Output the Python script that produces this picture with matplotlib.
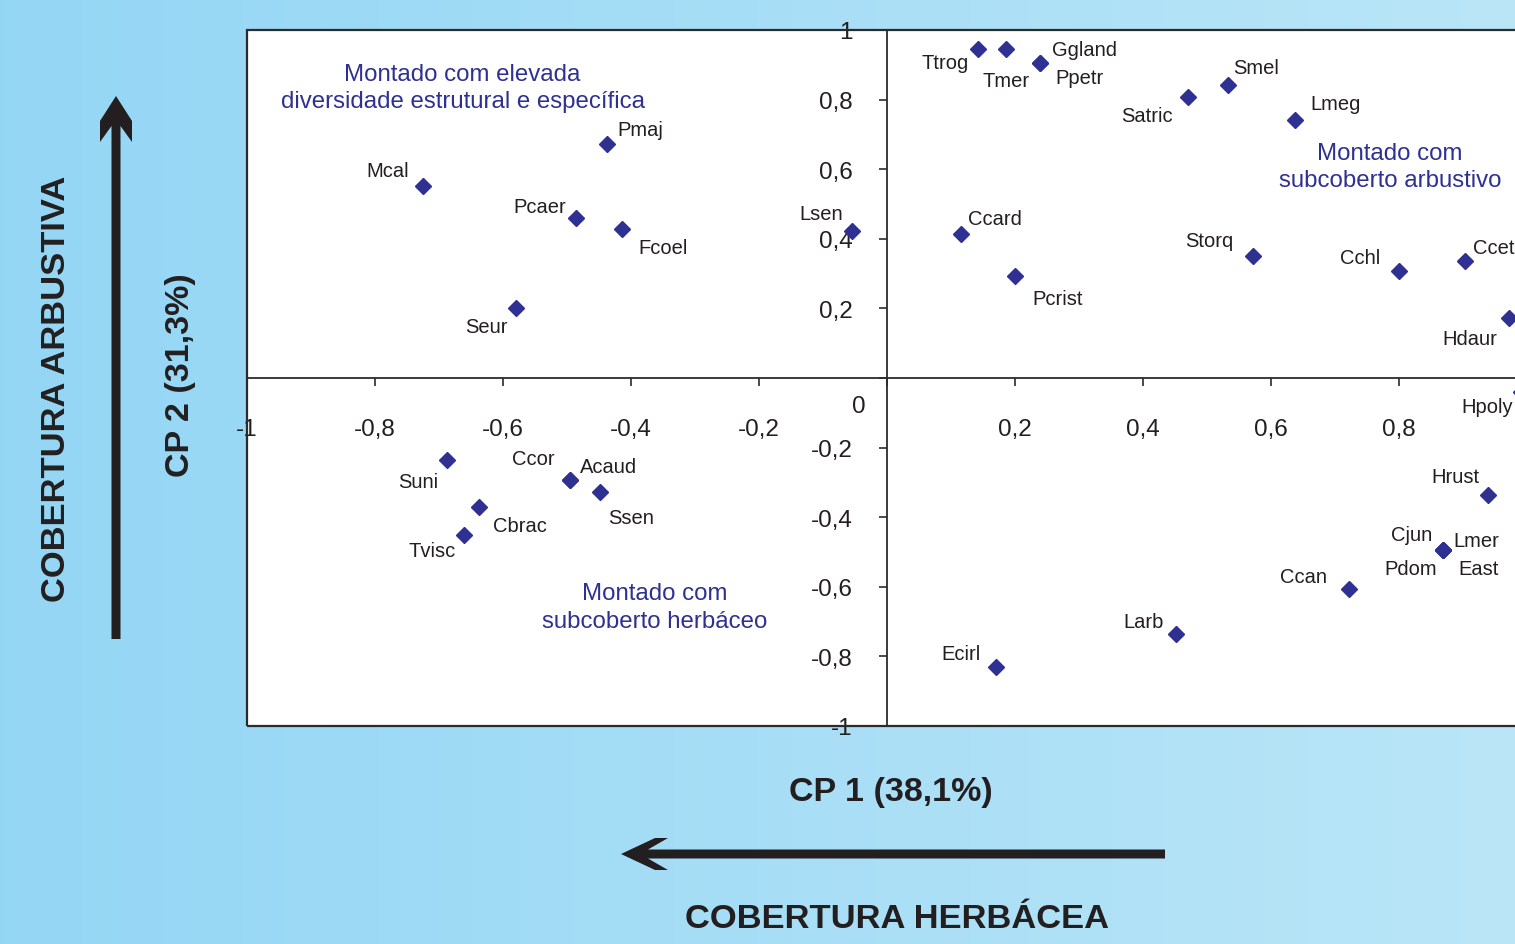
import numpy as np
import matplotlib
matplotlib.use('Agg')
import matplotlib.pyplot as plt
from matplotlib.patches import Polygon, Rectangle
from matplotlib.ticker import FuncFormatter, FixedLocator

plt.rcParams['font.family'] = ['Liberation Sans', 'DejaVu Sans']

# Scores das espécies no plano CP1 x CP2
especies = ['Ttrog', 'Tmer', 'Ggland', 'Ppetr', 'Satric', 'Smel', 'Lmeg',
            'Ccard', 'Pcrist', 'Storq', 'Cchl', 'Ccet', 'Hdaur', 'Hpoly',
            'Hrust', 'Cjun', 'Lmer', 'Pdom', 'East', 'Ccan', 'Larb', 'Ecirl',
            'Lsen', 'Mcal', 'Pmaj', 'Pcaer', 'Fcoel', 'Seur',
            'Suni', 'Ccor', 'Acaud', 'Ssen', 'Cbrac', 'Tvisc']
cp1 = [0.142, 0.186, 0.239, 0.239, 0.470, 0.533, 0.638,
       0.116, 0.200, 0.572, 0.800, 0.903, 0.972, 0.990,
       0.939, 0.869, 0.869, 0.869, 0.869, 0.722, 0.452, 0.170,
       -0.055, -0.725, -0.438, -0.486, -0.414, -0.580,
       -0.688, -0.495, -0.495, -0.448, -0.638, -0.661]
cp2 = [0.945, 0.945, 0.905, 0.905, 0.807, 0.842, 0.741,
       0.414, 0.293, 0.351, 0.307, 0.336, 0.172, -0.040,
       -0.336, -0.494, -0.494, -0.494, -0.494, -0.606, -0.736, -0.830,
       0.422, 0.552, 0.672, 0.460, 0.428, 0.201,
       -0.236, -0.293, -0.293, -0.328, -0.371, -0.451]

ticks_x = [-1, -0.8, -0.6, -0.4, -0.2, 0, 0.2, 0.4, 0.6, 0.8]
ticks_y = [-1, -0.8, -0.6, -0.4, -0.2, 0, 0.2, 0.4, 0.6, 0.8, 1]

# deslocamento dos rótulos em pixels (dx, dy para baixo)
desloc = {'Ttrog': (-33, 13), 'Tmer': (0, 31), 'Ggland': (45, -14), 'Ppetr': (40, 14),
          'Satric': (-41, 18), 'Smel': (28, -17), 'Lmeg': (40, -17),
          'Ccard': (34, -15), 'Pcrist': (43, 22), 'Storq': (-44, -15), 'Cchl': (-39, -14),
          'Ccet': (29, -14), 'Hdaur': (-39, 20), 'Hpoly': (-33, 15),
          'Hrust': (-33, -18), 'Cjun': (-32, -15), 'Lmer': (33, -9), 'Pdom': (-32, 19),
          'East': (35, 19), 'Ccan': (-46, -12), 'Larb': (-33, -13), 'Ecirl': (-35, -13),
          'Lsen': (-31, -18), 'Mcal': (-35, -15), 'Pmaj': (34, -15), 'Pcaer': (-36, -11),
          'Fcoel': (41, 18), 'Seur': (-29, 18), 'Suni': (-28, 21), 'Ccor': (-37, -21),
          'Acaud': (38, -13), 'Ssen': (31, 25), 'Cbrac': (41, 18), 'Tvisc': (-32, 16)}

W, H = 1515, 945
fig = plt.figure(figsize=(W / 100, H / 100), dpi=100)


def px(x, y):
    return (x / W, 1 - y / H)


# fundo em degradê azul
bg = fig.add_axes([0, 0, 1, 1], zorder=-10)
grad = np.linspace(0, 1, 256).reshape(1, -1)
c0 = np.array([0.58, 0.84, 0.96])
c1 = np.array([0.73, 0.90, 0.97])
img = c0[None, None, :] * (1 - grad[..., None]) + c1[None, None, :] * grad[..., None]
bg.imshow(img, aspect='auto', extent=[0, 1, 0, 1])
bg.axis('off')

ax = fig.add_axes([247 / W, (H - 727) / H, 1280 / W, 696 / H])
ax.set_facecolor('white')
ax.set_xlim(-1, 1)
ax.set_ylim(-1, 1)

lc = '#2b2b2b'
for s in ['top', 'right']:
    ax.spines[s].set_visible(False)
ax.spines['left'].set_position(('data', 0))
ax.spines['bottom'].set_position(('data', 0))
ax.spines['left'].set_color(lc)
ax.spines['bottom'].set_color(lc)
ax.spines['left'].set_linewidth(1.3)
ax.spines['bottom'].set_linewidth(1.3)
ax.add_patch(Rectangle((0, 0), 1, 1, transform=ax.transAxes, fill=False,
                       edgecolor=lc, linewidth=1.6, zorder=5, clip_on=False))

fmt = FuncFormatter(lambda v, p: '' if abs(v) < 1e-9 else ('%g' % v).replace('.', ','))
ax.xaxis.set_major_locator(FixedLocator(ticks_x))
ax.yaxis.set_major_locator(FixedLocator(ticks_y))
ax.xaxis.set_major_formatter(fmt)
ax.yaxis.set_major_formatter(fmt)
ax.tick_params(axis='x', direction='out', length=6, width=1.2, color=lc,
               labelsize=17.5, pad=23, labelcolor='#231f20')
ax.tick_params(axis='y', direction='out', length=6, width=1.2, color=lc,
               labelsize=17.5, pad=19, labelcolor='#231f20')
ax.text(-0.033, -0.08, '0', ha='right', va='center', fontsize=17.5, color='#231f20')

azul = '#2e3192'
ax.plot(cp1, cp2, 'D', color=azul, markersize=8.5, linestyle='none', zorder=6, clip_on=False)

for nome, x, y in zip(especies, cp1, cp2):
    dx, dy = desloc[nome]
    ax.annotate(nome, (x, y), xytext=(dx * 0.72, -dy * 0.72), textcoords='offset points',
                ha='center', va='center', fontsize=14.5, color='#231f20', annotation_clip=False)

ax.text(-0.663, 0.835, 'Montado com elevada\ndiversidade estrutural e específica',
        ha='center', va='center', fontsize=17.3, color=azul, linespacing=1.3)
ax.text(0.786, 0.609, 'Montado com\nsubcoberto arbustivo',
        ha='center', va='center', fontsize=17.3, color=azul, linespacing=1.3)
ax.text(-0.3625, -0.658, 'Montado com\nsubcoberto herbáceo',
        ha='center', va='center', fontsize=17.3, color=azul, linespacing=1.3)

# títulos dos eixos
fig.text(*px(891, 793), 'CP 1 (38,1%)', ha='center', va='center', fontsize=24.5,
         fontweight='bold', color='#231f20')
fig.text(*px(180, 375), 'CP 2 (31,3%)', ha='center', va='center', fontsize=24.5,
         fontweight='bold', color='#231f20', rotation=90)
fig.text(*px(897, 920), 'COBERTURA HERBÁCEA', ha='center', va='center', fontsize=24.8,
         fontweight='bold', color='#231f20')
fig.text(*px(57, 389), 'COBERTURA ARBUSTIVA', ha='center', va='center', fontsize=24.8,
         fontweight='bold', color='#231f20', rotation=90)

# setas
seta_v = [(116, 97), (132, 122), (132, 143), (120.5, 127), (120.5, 640),
          (111.5, 640), (111.5, 127), (100, 143), (100, 122)]
seta_h = [(621, 855), (655, 839), (668, 839), (648, 850.5), (1165, 850.5),
          (1165, 859.5), (648, 859.5), (668, 871), (655, 871)]
for pts in (seta_v, seta_h):
    fig.patches.append(Polygon([px(a, b) for a, b in pts], closed=True,
                               transform=fig.transFigure, facecolor='#231f20',
                               edgecolor='none'))

plt.savefig('out.png', dpi=100)
